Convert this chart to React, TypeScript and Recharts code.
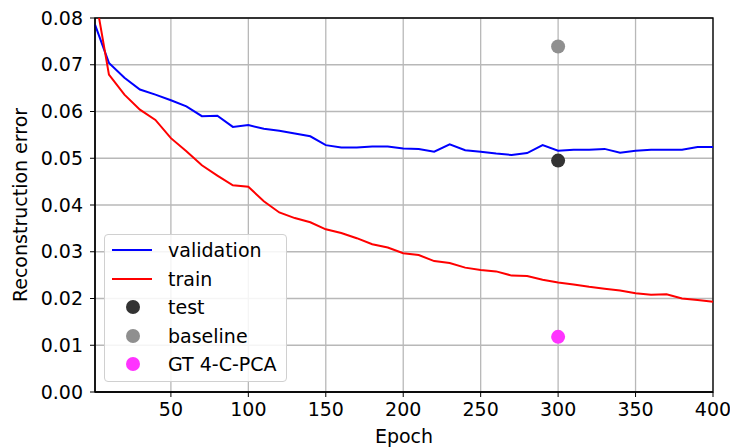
import { ComposedChart, Line, Scatter, XAxis, YAxis, CartesianGrid, ReferenceArea, Label } from 'recharts';

const epochs = [1, 10, 20, 30, 40, 50, 60, 70, 80, 90, 100, 110, 120, 130, 140, 150, 160, 170, 180, 190, 200,
  210, 220, 230, 240, 250, 260, 270, 280, 290, 300, 310, 320, 330, 340, 350, 360, 370, 380, 390, 400];

const validation = [0.0786, 0.0704, 0.0672, 0.0647, 0.0636, 0.0624, 0.0611, 0.059, 0.0591, 0.0567, 0.0571,
  0.0563, 0.0559, 0.0553, 0.0547, 0.0528, 0.0523, 0.0523, 0.0525, 0.0525, 0.0521,
  0.052, 0.0514, 0.053, 0.0517, 0.0514, 0.051, 0.0507, 0.0511, 0.0528, 0.0516,
  0.0518, 0.0518, 0.052, 0.0512, 0.0516, 0.0518, 0.0518, 0.0518, 0.0524, 0.0524];

const train = [0.085, 0.0679, 0.0636, 0.0604, 0.0582, 0.0543, 0.0515, 0.0485, 0.0463, 0.0442, 0.0439,
  0.0408, 0.0384, 0.0372, 0.0363, 0.0348, 0.034, 0.0329, 0.0316, 0.0309, 0.0297,
  0.0293, 0.028, 0.0276, 0.0266, 0.0261, 0.0258, 0.0249, 0.0248, 0.024, 0.0234,
  0.023, 0.0225, 0.0221, 0.0217, 0.0211, 0.0208, 0.0209, 0.02, 0.0197, 0.0193];

const testPoint = [{ epoch: 300, y: 0.0495 }];
const baselinePoint = [{ epoch: 300, y: 0.0739 }];
const gtPcaPoint = [{ epoch: 300, y: 0.0118 }];

const xTicks = [50, 100, 150, 200, 250, 300, 350, 400];
const yTicks = [0, 0.01, 0.02, 0.03, 0.04, 0.05, 0.06, 0.07, 0.08];

const legendItems = [
  { name: 'validation', color: '#0000ff', kind: 'line' },
  { name: 'train', color: '#ff0000', kind: 'line' },
  { name: 'test', color: '#333333', kind: 'dot' },
  { name: 'baseline', color: '#8f8f8f', kind: 'dot' },
  { name: 'GT 4-C-PCA', color: '#ff33ff', kind: 'dot' },
];

const rows = epochs.map((e, i) => ({ epoch: e, validation: validation[i], train: train[i] }));

const font = 'DejaVu Sans, sans-serif';

const dot = (color: string) => (p: any) => <circle cx={p.cx} cy={p.cy} r={7} fill={color} />;

function LegendBox() {
  return (
    <div
      style={{
        position: 'absolute',
        left: 104,
        top: 234,
        width: 183,
        height: 148,
        border: '1px solid #d0d0d0',
        borderRadius: 4,
        background: 'rgba(255,255,255,0.85)',
        fontFamily: font,
        fontSize: 19,
        color: '#000',
        paddingTop: 1,
        boxSizing: 'border-box',
      }}
    >
      {legendItems.map((it) => (
        <div key={it.name} style={{ display: 'flex', alignItems: 'center', height: 28.5 }}>
          <svg width={63} height={20} style={{ flexShrink: 0 }}>
            {it.kind === 'line' ? (
              <line x1={7} x2={47} y1={10} y2={10} stroke={it.color} strokeWidth={2} />
            ) : (
              <circle cx={28} cy={10} r={7} fill={it.color} />
            )}
          </svg>
          <span style={{ lineHeight: '20px' }}>{it.name}</span>
        </div>
      ))}
    </div>
  );
}

export default function App() {
  return (
    <div style={{ position: 'absolute', left: 0, top: 0, width: 730, height: 447, background: '#fff' }}>
      <ComposedChart width={730} height={447} data={rows} margin={{ top: 18, right: 17, bottom: 0, left: 0 }}>
        <CartesianGrid stroke="#b8b8b8" strokeWidth={1.3} />
        <XAxis
          dataKey="epoch"
          type="number"
          domain={[1, 400]}
          ticks={xTicks}
          height={55}
          tickSize={5}
          tickMargin={6}
          tick={{ fill: '#000', fontSize: 19, fontFamily: font }}
          axisLine={{ stroke: '#000', strokeWidth: 1.3 }}
          tickLine={{ stroke: '#000' }}
        >
          <Label value="Epoch" position="insideBottom" offset={4} style={{ fill: '#000', fontSize: 19, fontFamily: font }} />
        </XAxis>
        <YAxis
          type="number"
          domain={[0, 0.08]}
          allowDataOverflow
          ticks={yTicks}
          width={95}
          tickSize={5}
          tickMargin={7}
          tickFormatter={(v: number) => v.toFixed(2)}
          tick={{ fill: '#000', fontSize: 19, fontFamily: font }}
          axisLine={{ stroke: '#000', strokeWidth: 1.3 }}
          tickLine={{ stroke: '#000' }}
        >
          <Label
            value="Reconstruction error"
            angle={-90}
            position="insideLeft"
            offset={20}
            style={{ textAnchor: 'middle', fill: '#000', fontSize: 19, fontFamily: font }}
          />
        </YAxis>
        <ReferenceArea x1={1} x2={400} y1={0} y2={0.08} fill="none" stroke="#000" strokeWidth={1.3} />
        <Line dataKey="validation" stroke="#0000ff" strokeWidth={2} dot={false} isAnimationActive={false} />
        <Line dataKey="train" stroke="#ff0000" strokeWidth={2} dot={false} isAnimationActive={false} />
        <Scatter data={testPoint} dataKey="y" shape={dot('#333333')} isAnimationActive={false} />
        <Scatter data={baselinePoint} dataKey="y" shape={dot('#8f8f8f')} isAnimationActive={false} />
        <Scatter data={gtPcaPoint} dataKey="y" shape={dot('#ff33ff')} isAnimationActive={false} />
      </ComposedChart>
      <LegendBox />
    </div>
  );
}
